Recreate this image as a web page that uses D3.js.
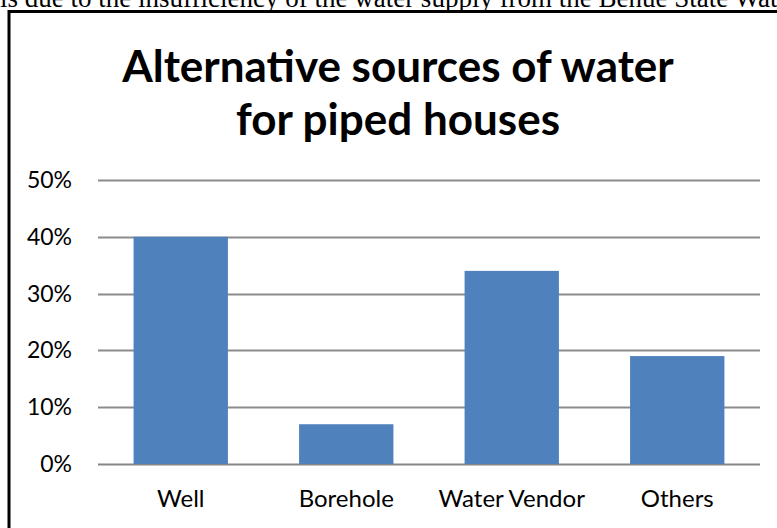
<!DOCTYPE html>
<html>
<head>
<meta charset="utf-8">
<script src="https://cdn.jsdelivr.net/npm/d3@7"></script>
<style>
  body { margin: 0; background: #fff; }
  svg { display: block; }
</style>
</head>
<body>
<svg id="chart"></svg>
<script>
// data
const categories = ['Well', 'Borehole', 'Water Vendor', 'Others']
const values = [0.40, 0.07, 0.34, 0.19]
const ticks = [0, 0.1, 0.2, 0.3, 0.4, 0.5]
const titleLines = ['Alternative sources of water', 'for piped houses']
const pageText = 'is due to the insufficiency of the water supply from the Benue State Water'

const width = 777
const height = 528
const svg = d3.select('#chart').attr('width', width).attr('height', height)

// cut-off line of document text above the chart
svg.append('text')
  .attr('x', 0)
  .attr('y', 7)
  .attr('font-family', 'Liberation Serif, serif')
  .attr('font-size', 27)
  .attr('fill', '#000')
  .text(pageText)

// chart frame (only left and top edges visible)
svg.append('rect')
  .attr('x', 9)
  .attr('y', 11.5)
  .attr('width', 800)
  .attr('height', 600)
  .attr('fill', 'none')
  .attr('stroke', '#000')
  .attr('stroke-width', 3)

// title
svg.selectAll('.title')
  .data(titleLines)
  .enter()
  .append('text')
  .attr('class', 'title')
  .attr('x', 398)
  .attr('y', (d, i) => 82 + i * 53)
  .attr('text-anchor', 'middle')
  .attr('font-family', 'Lato, sans-serif')
  .attr('font-weight', 'bold')
  .attr('font-size', 44)
  .attr('fill', '#000')
  .text(d => d)

// scales
const margin = { left: 98, right: 17, top: 180, bottom: 64 }
const x = d3.scaleBand()
  .domain(categories)
  .range([margin.left, width - margin.right])
  .paddingInner(0.43)
  .paddingOuter(0.215)
const y = d3.scaleLinear()
  .domain([0, 0.5])
  .range([height - margin.bottom, margin.top])

// gridlines
svg.append('g')
  .selectAll('line')
  .data(ticks)
  .enter()
  .append('line')
  .attr('x1', margin.left)
  .attr('x2', width - margin.right)
  .attr('y1', d => Math.round(y(d)) + 0.5)
  .attr('y2', d => Math.round(y(d)) + 0.5)
  .attr('stroke', d => d === 0 ? '#868686' : '#8c8c8c')
  .attr('stroke-width', 2)

// bars
svg.append('g')
  .selectAll('rect')
  .data(values)
  .enter()
  .append('rect')
  .attr('x', (d, i) => x(categories[i]))
  .attr('width', x.bandwidth())
  .attr('y', d => y(d))
  .attr('height', d => y(0) - y(d))
  .attr('fill', '#4F81BD')

// y axis labels
svg.append('g')
  .selectAll('text')
  .data(ticks)
  .enter()
  .append('text')
  .attr('x', 72)
  .attr('y', d => y(d) + 8)
  .attr('text-anchor', 'end')
  .attr('font-family', 'Lato, sans-serif')
  .attr('font-size', 23)
  .attr('fill', '#000')
  .text(d3.format('.0%'))

// x axis labels
svg.append('g')
  .selectAll('text')
  .data(categories)
  .enter()
  .append('text')
  .attr('x', d => x(d) + x.bandwidth() / 2)
  .attr('y', 507)
  .attr('text-anchor', 'middle')
  .attr('font-family', 'Lato, sans-serif')
  .attr('font-size', 24)
  .attr('fill', '#000')
  .text(d => d)
</script>
</body>
</html>
